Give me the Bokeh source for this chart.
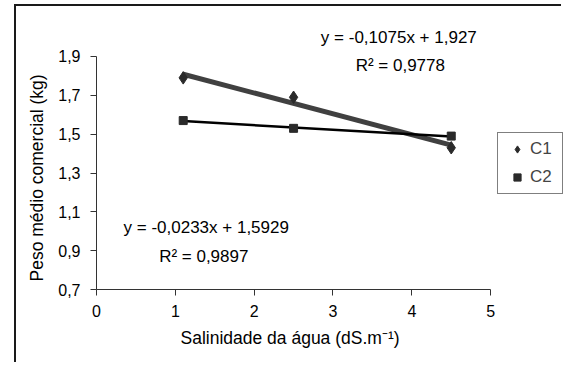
from bokeh.plotting import figure
from bokeh.models import Range1d, FixedTicker, Label, Legend, LegendItem, CustomJSTickFormatter, Title
from bokeh.embed import file_html
from bokeh.resources import INLINE

# Data
salinity = [1.1, 2.5, 4.5]
c1 = [1.79, 1.69, 1.43]
c2 = [1.57, 1.53, 1.49]
c1_slope, c1_intercept, c1_r2 = -0.1075, 1.927, 0.9778
c2_slope, c2_intercept, c2_r2 = -0.0233, 1.5929, 0.9897
x_ticks = [0, 1, 2, 3, 4, 5]
y_ticks = [0.7, 0.9, 1.1, 1.3, 1.5, 1.7, 1.9]

FONT = "Liberation Sans"

p = figure(width=547, height=358, output_backend="svg", toolbar_location=None,
           x_range=Range1d(0, 5 * 468 / 395), y_range=Range1d(0.7, 1.9 + 50 / 194.1667),
           min_border_left=79, min_border_right=0, min_border_top=0, min_border_bottom=75)
p.styles = {"margin-left": "14px", "margin-top": "4px",
            "border-left": "2px solid #1a1a1a", "border-top": "2px solid #1a1a1a"}
p.outline_line_color = None
p.grid.grid_line_color = None
p.background_fill_color = "white"
p.border_fill_color = "white"

for ax in (p.xaxis[0], p.yaxis[0]):
    ax.axis_line_color = "#333333"
    ax.major_tick_line_color = "#333333"
    ax.minor_tick_line_color = None
    ax.major_tick_in = 0
    ax.major_tick_out = 6
    ax.major_label_text_font = FONT
    ax.major_label_text_font_size = "16px"
    ax.major_label_text_color = "black"

p.xaxis.bounds = (0, 5)
p.yaxis.bounds = (0.7, 1.9)
p.xaxis.ticker = FixedTicker(ticks=x_ticks)
p.yaxis.ticker = FixedTicker(ticks=y_ticks)
p.yaxis.formatter = CustomJSTickFormatter(code="return tick.toFixed(1).replace('.', ',');")
p.xaxis.major_label_standoff = 9
p.yaxis.major_label_standoff = 10

# axis titles as titles in the side panels, placed along the axis spans
p.add_layout(Title(text="Salinidade da água (dS.m⁻¹)", align="left", offset=84,
                   text_font=FONT, text_font_size="17.5px", text_font_style="normal",
                   text_color="black", standoff=12), "below")
p.add_layout(Title(text="Peso médio comercial (kg)", align="left", offset=8,
                   text_font=FONT, text_font_size="17.5px", text_font_style="normal",
                   text_color="black", standoff=17), "left")

# trend lines
tx = [salinity[0], salinity[-1]]
t1 = [c1_slope * x + c1_intercept for x in tx]
t2 = [c2_slope * x + c2_intercept for x in tx]
p.line(tx, t1, line_color="#404040", line_width=5)
p.line(tx, t2, line_color="black", line_width=2.5)

r1 = p.scatter(salinity, c1, marker="diamond", size=12.5,
               fill_color="#2a2a2a", line_color="#2a2a2a")
r2 = p.scatter(salinity, c2, marker="square", size=8, fill_color="#2a2a2a", line_color="#2a2a2a")

def fmt(v, n):
    return f"{v:.{n}f}".replace(".", ",")

eq1 = f"y = {fmt(c1_slope, 4)}x + {fmt(c1_intercept, 3)}"
eq2 = f"y = {fmt(c2_slope, 4)}x + {fmt(c2_intercept, 4)}"
r2t1 = f"R² = {fmt(c1_r2, 4)}"
r2t2 = f"R² = {fmt(c2_r2, 4)}"

for txt, x, y in [(eq1, 3.835, 1.998), (r2t1, 3.854, 1.854), (eq2, 1.392, 1.019), (r2t2, 1.361, 0.870)]:
    p.add_layout(Label(x=x, y=y, text=txt, text_font=FONT, text_font_size="17px",
                       text_align="center", text_baseline="alphabetic", text_color="black"))

legend = Legend(items=[LegendItem(label="C1", renderers=[r1]), LegendItem(label="C2", renderers=[r2])],
                location=(401, 95), border_line_color="black", border_line_width=1,
                label_text_font=FONT, label_text_font_size="17px",
                glyph_width=26, glyph_height=18, label_height=18, label_width=26,
                spacing=8, padding=6, margin=0, label_standoff=0)
p.add_layout(legend)

open("out.html", "w").write(file_html(p, INLINE))
